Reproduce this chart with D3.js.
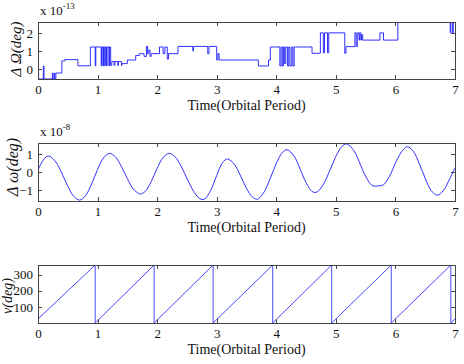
<!DOCTYPE html>
<html>
<head>
<meta charset="utf-8">
<script src="https://cdn.jsdelivr.net/npm/d3@7"></script>
<style>
  body { margin: 0; background: #fff; }
  svg { display: block; font-family: "Liberation Serif", "Times New Roman", serif; }
  .axis path, .axis line { stroke: #444; shape-rendering: crispEdges; }
  .axis text { fill: #111; font-size: 13px; font-family: "Liberation Serif", serif; }
</style>
</head>
<body>
<svg id="chart" width="464" height="364"></svg>
<script>
// time axis, shared by the three panels
var timeTicks = [0, 1, 2, 3, 4, 5, 6, 7];

// panel 1: delta Omega (x 1e-13 deg), step changes [time, value]
var omegaStepT = [0.00, 0.01, 0.09, 0.10, 0.24, 0.25, 0.27, 0.28, 0.30, 0.40, 0.45, 0.67, 0.88, 0.96, 0.97,
  1.06, 1.07, 1.09, 1.10, 1.12, 1.13, 1.15, 1.16, 1.19, 1.20, 1.22, 1.24, 1.28, 1.29, 1.34, 1.35, 1.40, 1.41,
  1.50, 1.64, 1.70, 1.78, 1.82, 1.84, 1.86, 1.88, 1.90, 2.04, 2.10, 2.13, 2.17, 2.19, 2.35, 2.60, 2.61, 2.85,
  2.87, 3.00, 3.02, 3.04, 3.70, 3.87, 3.90, 4.06, 4.08, 4.10, 4.12, 4.14, 4.16, 4.19, 4.21, 4.23, 4.26, 4.28,
  4.30, 4.60, 4.74, 4.79, 4.81, 4.86, 4.88, 5.15, 5.17, 5.32, 5.34, 5.36, 5.39, 5.40, 5.42, 5.43, 5.45, 5.74,
  5.80, 6.04, 6.92, 6.93, 6.96, 6.97, 7.00];
var omegaStepV = [-0.15, -0.55, 0.17, -0.55, -0.22, -0.55, -0.22, -0.55, -0.22, 0.45, 0.52, 0.18, 1.22, 0.18, 1.22,
  0.18, 1.22, 0.18, 1.22, 0.18, 1.22, 0.18, 1.22, 0.18, 1.22, 0.20, 0.42, 0.20, 0.42, 0.20, 0.42, 0.20, 0.30,
  0.50, 0.75, 0.85, 0.70, 1.25, 0.85, 1.05, 0.70, 0.85, 1.22, 0.85, 1.22, 0.55, 0.85, 1.25, 1.00, 1.25, 0.85,
  1.25, 0.50, 0.85, 0.50, 0.17, 0.50, 1.22, 0.17, 1.22, 0.17, 1.22, 0.30, 1.22, 0.17, 1.22, 0.17, 1.22, 0.17,
  1.22, 0.87, 2.00, 0.90, 2.00, 0.90, 2.00, 0.87, 1.24, 2.00, 1.24, 2.00, 1.60, 2.00, 1.60, 1.90, 1.60, 2.00,
  1.60, 3.00, 2.00, 3.00, 2.00, 3.00, 3.00];
var omegaTicks = [0, 1, 2];

// panel 2: delta omega (x 1e-8 deg)
var argT = [0, 0.1, 0.17, 0.2, 0.3, 0.4, 0.5, 0.6, 0.7, 0.8, 0.9, 1.0, 1.1, 1.2, 1.3, 1.4, 1.5, 1.6, 1.7, 1.72,
  1.8, 1.9, 2.0, 2.1, 2.2, 2.3, 2.4, 2.5, 2.6, 2.7, 2.77, 2.8, 2.9, 3.0, 3.1, 3.18, 3.3, 3.4, 3.5, 3.6, 3.67,
  3.7, 3.8, 3.9, 4.0, 4.1, 4.18, 4.3, 4.4, 4.5, 4.6, 4.65, 4.7, 4.8, 4.9, 5.0, 5.1, 5.18, 5.3, 5.4, 5.5, 5.6,
  5.65, 5.72, 5.8, 5.9, 6.0, 6.05, 6.1, 6.2, 6.3, 6.4, 6.5, 6.6, 6.7, 6.8, 6.9, 7.0];
var argV = [0.10, 0.72, 0.88, 0.86, 0.55, -0.07, -0.78, -1.34, -1.55, -1.30, -0.66, 0.14, 0.78, 1.03, 0.83,
  0.30, -0.36, -0.94, -1.20, -1.22, -1.07, -0.53, 0.20, 0.80, 1.03, 0.84, 0.33, -0.35, -1.00, -1.43, -1.52,
  -1.49, -1.01, -0.19, 0.52, 0.72, 0.41, -0.21, -0.90, -1.39, -1.50, -1.48, -1.08, -0.34, 0.47, 1.07, 1.23,
  0.87, 0.17, -0.59, -1.07, -1.13, -1.07, -0.63, 0.09, 0.86, 1.40, 1.55, 1.19, 0.50, -0.24, -0.72, -0.78,
  -0.76, -0.70, -0.24, 0.50, 0.82, 1.10, 1.40, 1.14, 0.47, -0.35, -1.02, -1.28, -1.05, -0.45, 0.22];
var argTicks = [-1, 0, 1];

// panel 3: true anomaly (deg), saw-tooth corners
var nuT = [0, 0.96, 0.96, 1.95, 1.95, 2.94, 2.94, 3.94, 3.94, 4.93, 4.93, 5.93, 5.93, 6.93, 6.93, 7.0];
var nuV = [25, 360, 0, 360, 0, 360, 0, 360, 0, 360, 0, 360, 0, 360, 0, 25];
var nuTicks = [100, 200, 300];

var svg = d3.select("#chart");
var x = d3.scaleLinear().domain([0, 7]).range([38, 455]);

function drawPanel(p) {
  var y = d3.scaleLinear().domain(p.domain).range([p.bottom, p.top]);
  var g = svg.append("g");

  g.append("defs").append("clipPath").attr("id", p.id)
    .append("rect").attr("x", 38).attr("y", p.top).attr("width", 417).attr("height", p.bottom - p.top);

  var pts = d3.zip(p.t, p.v);
  g.append("path")
    .datum(pts)
    .attr("clip-path", "url(#" + p.id + ")")
    .attr("fill", "none")
    .attr("stroke", "#1a1aff")
    .attr("stroke-width", p.width)
    .attr("d", d3.line().x(function(d){ return x(d[0]); }).y(function(d){ return y(d[1]); }).curve(p.curve));

  g.append("g").attr("class", "axis").attr("transform", "translate(0," + p.bottom + ")")
    .call(d3.axisBottom(x).tickValues(timeTicks).tickSize(-4).tickPadding(6).tickFormat(d3.format("d")));
  g.append("g").attr("class", "axis").attr("transform", "translate(0," + p.top + ")")
    .call(d3.axisTop(x).tickValues(timeTicks).tickSize(-4).tickFormat(""));
  g.append("g").attr("class", "axis").attr("transform", "translate(38,0)")
    .call(d3.axisLeft(y).tickValues(p.ticks).tickSize(-4).tickPadding(5).tickFormat(d3.format("d")));
  g.append("g").attr("class", "axis").attr("transform", "translate(455,0)")
    .call(d3.axisRight(y).tickValues(p.ticks).tickSize(-4).tickFormat(""));

  g.append("text")
    .attr("x", 246.5).attr("y", p.bottom + 31)
    .attr("text-anchor", "middle").attr("font-size", 14).attr("fill", "#111")
    .text("Time(Orbital Period)");

  g.append("text")
    .attr("transform", "translate(" + p.labelX + "," + p.labelY + ") rotate(-90)")
    .attr("text-anchor", "middle").attr("font-size", p.labelSize).attr("font-style", "italic").attr("fill", "#111")
    .text(p.label);

  if (p.exp) {
    var t = g.append("text").attr("x", 40).attr("y", p.top - 7).attr("font-size", 13).attr("fill", "#111");
    t.append("tspan").text("x 10");
    t.append("tspan").attr("dy", -6).attr("font-size", 9).text(p.exp);
  }
}

drawPanel({ id: "c1", top: 22, bottom: 79, domain: [-0.55, 2.6], ticks: omegaTicks, t: omegaStepT, v: omegaStepV,
  curve: d3.curveStepAfter, width: 0.9, label: "\u0394 \u03A9(deg)", labelX: 21, labelY: 49, labelSize: 15, exp: "-13" });
drawPanel({ id: "c2", top: 143, bottom: 201, domain: [-1.6, 1.6], ticks: argTicks, t: argT, v: argV,
  curve: d3.curveCatmullRom, width: 0.9, label: "\u0394 \u03C9(deg)", labelX: 18, labelY: 167, labelSize: 16, exp: "-8" });
drawPanel({ id: "c3", top: 265, bottom: 323, domain: [0, 360], ticks: nuTicks, t: nuT, v: nuV,
  curve: d3.curveLinear, width: 0.8, label: "\u03BD(deg)", labelX: 12, labelY: 296, labelSize: 14, exp: null });
</script>
</body>
</html>
